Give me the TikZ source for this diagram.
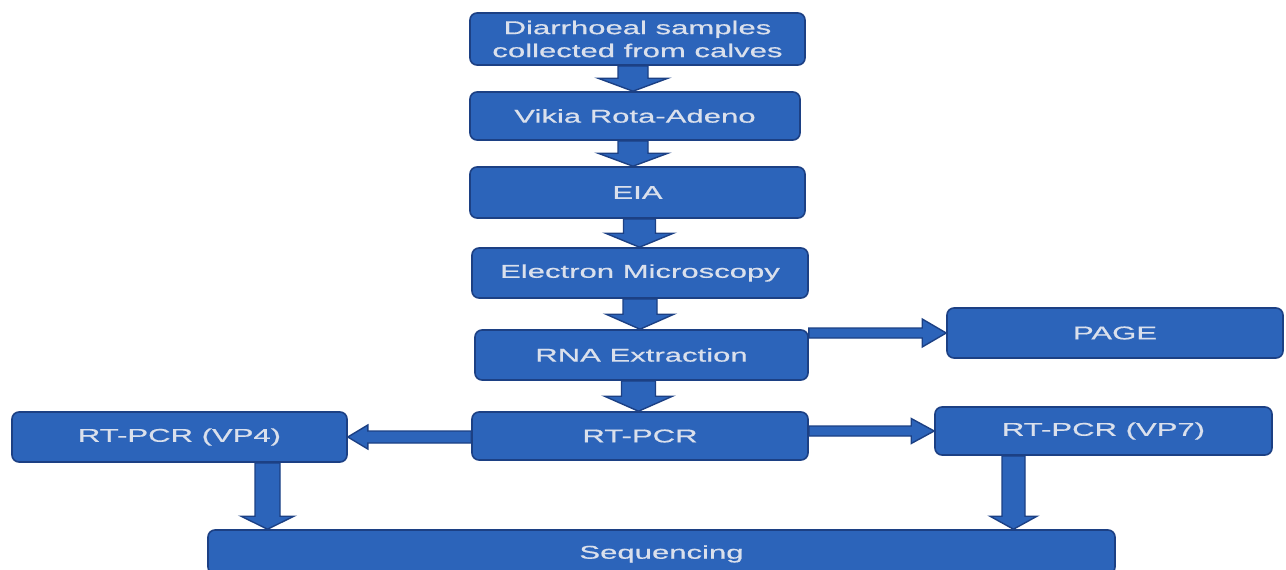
\documentclass[tikz,border=0pt]{standalone}
\usepackage{fontspec}
\setmainfont{Liberation Sans}[FakeStretch=1.68,FakeBold=0.6]
\usetikzlibrary{calc}
\definecolor{boxblue}{RGB}{44,100,186}
\definecolor{boxedge}{RGB}{28,64,132}
\definecolor{boxtext}{RGB}{218,224,236}
\tikzset{
  stepbox/.style={draw=boxedge, line width=1.6pt, fill=boxblue, rounded corners=7pt,
    text=boxtext, font=\fontsize{18.5}{23}\selectfont, align=center, inner sep=0pt},
  blockarrow/.style={draw=boxedge, line width=1.4pt, fill=boxblue, line join=miter}
}
% vertical block arrow: #1 start (x,y used), #2 end (y used), #3 shaft half width, #4 head half width, #5 head length
\newcommand\vblockarrow[5]{%
  \draw[blockarrow] let \p1=(#1), \p2=(#2) in
    (\x1-#3,\y1) -- (\x1-#3,\y2+#5) -- (\x1-#4,\y2+#5) -- (\x1,\y2) --
    (\x1+#4,\y2+#5) -- (\x1+#3,\y2+#5) -- (\x1+#3,\y1) -- cycle;}
% horizontal block arrow: #1 start (x used), #2 end (x,y used), #6 direction (+1 right, -1 left)
\newcommand\hblockarrow[6]{%
  \draw[blockarrow] let \p1=(#1), \p2=(#2) in
    (\x1,\y2+#3) -- (\x2-#6*#5,\y2+#3) -- (\x2-#6*#5,\y2+#4) -- (\x2,\y2) --
    (\x2-#6*#5,\y2-#4) -- (\x2-#6*#5,\y2-#3) -- (\x1,\y2-#3) -- cycle;}
\begin{document}
\begin{tikzpicture}[x=1pt,y=-1pt]
\useasboundingbox (0,0) rectangle (1286,570);
\begin{scope}
\clip (0,0) rectangle (1286,570);
\node[stepbox, minimum width=335pt, minimum height=52pt] (b1) at (637.5,39) {Diarrhoeal samples\\collected from calves};
\node[stepbox, minimum width=330pt, minimum height=48pt] (b2) at (635,116) {Vikia Rota-Adeno};
\node[stepbox, minimum width=335pt, minimum height=51pt] (b3) at (637.5,192.5) {EIA};
\node[stepbox, minimum width=336pt, minimum height=50pt] (b4) at (640,273) {Electron Microscopy};
\node[stepbox, minimum width=333pt, minimum height=50pt] (b5) at (641.5,355) {RNA Extraction};
\node[stepbox, minimum width=336pt, minimum height=48pt] (b6) at (640,436) {RT-PCR};
\node[stepbox, minimum width=336pt, minimum height=50pt] (page) at (1115,333) {PAGE};
\node[stepbox, minimum width=337pt, minimum height=48pt] (vp7) at (1103.5,431) {RT-PCR (VP7)};
\node[stepbox, minimum width=335pt, minimum height=50pt] (vp4) at (179.5,437) {RT-PCR (VP4)};
\node[stepbox, minimum width=907pt, minimum height=44pt, text depth=0pt] (seq) at (661.5,552) {Sequencing};

\vblockarrow{$(b1.south)+(-4.5pt,0)$}{b2.north}{15pt}{35pt}{13pt}
\vblockarrow{$(b2.south)+(-2pt,0)$}{b3.north}{15pt}{35pt}{13pt}
\vblockarrow{$(b3.south)+(2pt,0)$}{b4.north}{16pt}{34pt}{14pt}
\vblockarrow{$(b4.south)+(0pt,0)$}{b5.north}{17pt}{34pt}{15pt}
\vblockarrow{$(b5.south)+(-3pt,0)$}{b6.north}{17pt}{34pt}{15pt}
\hblockarrow{b5.east}{page.west}{5pt}{14pt}{24pt}{1}
\hblockarrow{b6.east}{vp7.west}{5pt}{12.5pt}{23pt}{1}
\hblockarrow{b6.west}{vp4.east}{6pt}{12pt}{20pt}{-1}
\vblockarrow{$(vp4.south)+(88pt,0)$}{seq.north}{12.5pt}{26.5pt}{13pt}
\vblockarrow{$(vp7.south)+(-90pt,0)$}{seq.north}{11.5pt}{23.5pt}{13pt}
\end{scope}
\end{tikzpicture}
\end{document}
